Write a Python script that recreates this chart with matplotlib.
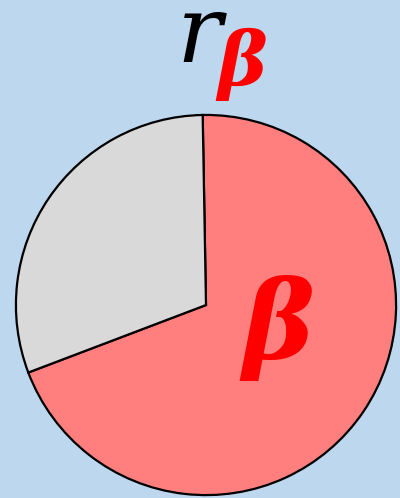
import matplotlib.pyplot as plt

plt.rcParams["mathtext.fontset"] = "dejavuserif"

# ---------- Data ----------
labels = ["beta", "rest"]
shares = [69.5, 30.5]
colors = ["#FF7F7F", "#D9D9D9"]
bg = "#BDD7EE"

fig = plt.figure(figsize=(4, 4.98), dpi=100, facecolor=bg)
ax = fig.add_axes([0.035, 0.002, 0.96, 0.771])
ax.set_facecolor(bg)

ax.pie(shares, colors=colors, startangle=200.8, counterclock=True,
       wedgeprops=dict(edgecolor="black", linewidth=1.6))
ax.set_xlim(-1.01, 1.01)
ax.set_ylim(-1.01, 1.01)
ax.set_aspect("equal")
ax.axis("off")

# title r_beta (mathtext keeps the bbox tight to the glyph)
fig.text(0.505, 0.875, r"$r$", fontsize=68, color="black",
         ha="center", va="baseline")
fig.text(0.605, 0.829, "β", fontfamily="DejaVu Serif", style="italic",
         weight="bold", fontsize=54, color="red", ha="center", va="baseline")

# big beta inside the red slice
ax.text(0.38, -0.12, "β", fontfamily="DejaVu Serif", style="italic",
        weight="bold", fontsize=78, color="red", ha="center", va="center")

fig.savefig("out.png", dpi=100, facecolor=bg)
